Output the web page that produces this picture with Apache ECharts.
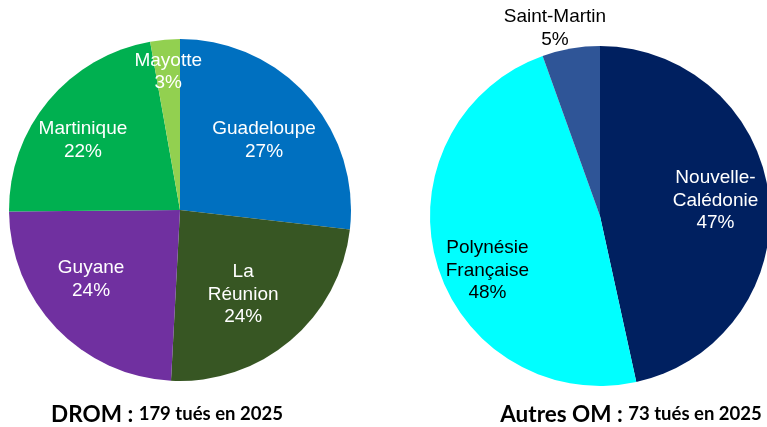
<!DOCTYPE html>
<html>
<head>
<meta charset="utf-8">
<script src="https://cdn.jsdelivr.net/npm/echarts@6/dist/echarts.min.js"></script>
<style>
  html, body { margin: 0; padding: 0; background: #ffffff; }
  #main { width: 767px; height: 427px; }
</style>
</head>
<body>
<div id="main"></div>
<script>
// DROM
var dromNames = ['Guadeloupe', 'La\nRéunion', 'Guyane', 'Martinique', 'Mayotte'];
var dromValues = [48, 43, 43, 40, 5];
var dromColors = ['#0070C0', '#375623', '#7030A0', '#00B050', '#92D050'];
var dromPct = ['27%', '24%', '24%', '22%', '3%'];

// Autres OM
var omNames = ['Nouvelle-\nCalédonie', 'Polynésie\nFrançaise', 'Saint-Martin'];
var omValues = [34, 35, 4];
var omColors = ['#002060', '#00FFFF', '#2F5597'];
var omPct = ['47%', '48%', '5%'];
var omTextColors = ['#ffffff', '#000000', '#000000'];

// label nudges from the default inside spot
var dromOffsets = [[18, -11], [6, 17], [-25, 8], [-29, -13], [-4, -50]];
var omOffsets = [[28, -6], [-28, 30], [-30, -101]];

var chart = echarts.init(document.getElementById('main'));

function buildData(names, values, colors, pct, offsets, textColors) {
  return names.map(function (n, i) {
    return {
      name: n,
      value: values[i],
      itemStyle: { color: colors[i] },
      label: {
        offset: offsets[i],
        color: textColors ? textColors[i] : '#ffffff',
        formatter: n + '\n' + pct[i]
      }
    };
  });
}

var labelBase = {
  show: true,
  position: 'inside',
  fontFamily: 'Liberation Sans, Arial, sans-serif',
  fontSize: 19,
  lineHeight: 22.5,
  align: 'center'
};

var titleRich = {
  a: { fontFamily: 'Lato', fontWeight: 'bold', fontSize: 22.5, color: '#000' },
  b: { fontFamily: 'Lato', fontWeight: 'bold', fontSize: 18.5, color: '#000' }
};

var option = {
  backgroundColor: '#ffffff',
  animation: false,
  title: [{
    text: '{a|DROM : }{b|179 tués en 2025}',
    left: 162,
    top: 398,
    textAlign: 'center',
    textStyle: { rich: titleRich }
  }, {
    text: '{a|Autres OM : }{b|73 tués en 2025}',
    left: 626,
    top: 398,
    textAlign: 'center',
    textStyle: { rich: titleRich }
  }],
  series: [{
    type: 'pie',
    center: [180, 210],
    radius: [0, 171],
    startAngle: 90,
    silent: true,
    label: labelBase,
    labelLine: { show: false },
    data: buildData(dromNames, dromValues, dromColors, dromPct, dromOffsets)
  }, {
    type: 'pie',
    center: [600, 216],
    radius: [0, 170],
    startAngle: 90,
    silent: true,
    label: labelBase,
    labelLine: { show: false },
    data: buildData(omNames, omValues, omColors, omPct, omOffsets, omTextColors)
  }]
};

chart.setOption(option);
</script>
</body>
</html>
